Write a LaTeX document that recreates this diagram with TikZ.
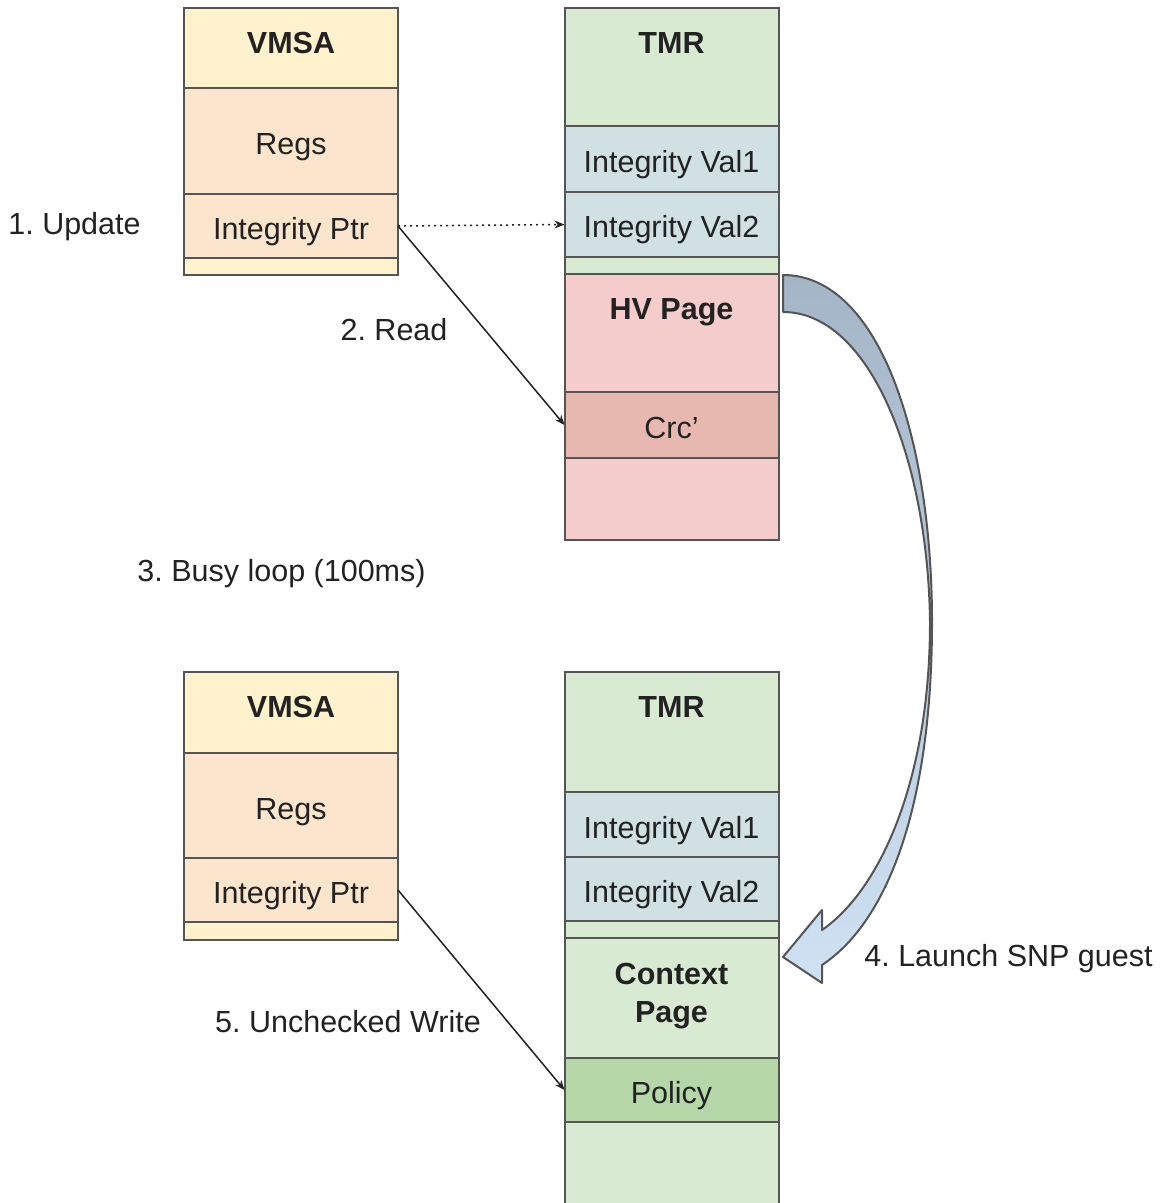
\documentclass[tikz,border=0pt]{standalone}
\usepackage{fontspec}
\setmainfont{Liberation Sans}
\usetikzlibrary{positioning,arrows.meta}
\frenchspacing

\definecolor{vmsahead}{HTML}{FFF2CC}
\definecolor{vmsabody}{HTML}{FCE5CD}
\definecolor{tmrgreen}{HTML}{D9EAD3}
\definecolor{valblue}{HTML}{D0E0E3}
\definecolor{hvpink}{HTML}{F4CCCC}
\definecolor{crcred}{HTML}{E6B8AF}
\definecolor{policygreen}{HTML}{B6D7A8}
\definecolor{edgegray}{HTML}{555555}
\definecolor{inkgray}{HTML}{222222}
\definecolor{arrowtop}{HTML}{A4B5C7}
\definecolor{arrowbot}{HTML}{CFE2F3}

\newcommand{\boxfont}{\fontsize{15.25}{19}\selectfont}

\tikzset{
  cell/.style={rectangle, draw=edgegray, line width=1pt, outer sep=0pt, inner sep=0pt,
    minimum width=107pt, minimum height=#1, text height=13.5pt, text depth=0pt},
  cell/.default=32pt,
  strip/.style={cell=#1, text height=0pt},
  strip/.default=8.5pt,
  hdr/.style={label={[font=\boxfont\bfseries, text=inkgray, anchor=center, yshift=-19.25pt,
    inner sep=0pt, text height=0.72em, text depth=0pt]north:#1}},
  link/.style={->, draw=inkgray, line width=0.75pt},
  stepnote/.style={anchor=base}
}

\begin{document}
\begin{tikzpicture}[x=0.5pt,y=-0.5pt,
    every node/.style={font=\boxfont, text=inkgray},
    >={Stealth[length=5pt,width=4pt]}]
    \useasboundingbox (0,0) rectangle (1162,1203);

    % upper VMSA
    \node[cell=40pt, fill=vmsahead, hdr=VMSA] (vmsa1) at (291,48) {};
    \node[cell=53pt, fill=vmsabody, below=0pt of vmsa1] (regs1) {Regs};
    \node[cell=32pt, fill=vmsabody, below=0pt of regs1] (ptr1) {Integrity Ptr};
    \node[strip, fill=vmsahead, below=0pt of ptr1] (vend1) {};

    % upper TMR
    \node[cell=59pt, fill=tmrgreen, hdr=TMR] (tmr1) at (671.5,67) {};
    \node[cell=33pt, fill=valblue, below=0pt of tmr1] (vala1) {Integrity Val1};
    \node[cell=32.5pt, fill=valblue, below=0pt of vala1] (valb1) {Integrity Val2};
    \node[strip, fill=tmrgreen, below=0pt of valb1] (tend1) {};
    \node[cell=59pt, fill=hvpink, hdr=HV Page, below=0pt of tend1] (hv) {};
    \node[cell=33pt, fill=crcred, below=0pt of hv] (crc) {Crc'};
    \node[cell=41pt, fill=hvpink, below=0pt of crc] (hvend) {};

    % lower VMSA
    \node[cell=40.5pt, fill=vmsahead, hdr=VMSA] (vmsa2) at (291,712.5) {};
    \node[cell=52.5pt, fill=vmsabody, below=0pt of vmsa2] (regs2) {Regs};
    \node[cell=32pt, fill=vmsabody, below=0pt of regs2] (ptr2) {Integrity Ptr};
    \node[strip=9pt, fill=vmsahead, below=0pt of ptr2] (vend2) {};

    % lower TMR
    \node[cell=60pt, fill=tmrgreen, hdr=TMR] (tmr2) at (671.5,732) {};
    \node[cell=32.5pt, fill=valblue, below=0pt of tmr2] (vala2) {Integrity Val1};
    \node[cell=32pt, fill=valblue, below=0pt of vala2] (valb2) {Integrity Val2};
    \node[strip, fill=tmrgreen, below=0pt of valb2] (tend2) {};
    \node[cell=60pt, fill=tmrgreen, align=center, font=\boxfont\bfseries, text height=24pt,
          below=0pt of tend2] (ctx) {Context\\Page};
    \node[cell=32pt, fill=policygreen, below=0pt of ctx] (policy) {Policy};
    \node[cell=46pt, fill=tmrgreen, below=0pt of policy] (tend3) {};

    % steps
    \node[stepnote] (upd) at (74.5,235) {1. Update};
    \node[stepnote] (rd) at (394,341) {2. Read};
    \node[stepnote] (busy) at (281.5,581) {3. Busy loop (100ms)};
    \node[stepnote] (launch) at (1008.5,966) {4. Launch SNP guest};
    \node[stepnote] (wr) at (348,1032) {5. Unchecked Write};

    \draw[link, dash pattern=on 1pt off 2pt] (ptr1.east) -- (valb1.west);
    \draw[link] (ptr1.east) -- (crc.west);
    \draw[link] (ptr2.east) -- (policy.west);

    % curved launch arrow
    \draw[draw=edgegray, line width=1pt, line join=round, top color=arrowtop, bottom color=arrowbot]
        (783,275) .. controls (880,275) and (932,440) .. (932,622)
        .. controls (932,800) and (890,920) .. (822,965)
        -- (822,983) -- (783,957) -- (822,910) -- (822,930)
        .. controls (880,890) and (930,780) .. (930,622)
        .. controls (928,460) and (870,312) .. (783,312) -- cycle;
\end{tikzpicture}
\end{document}
